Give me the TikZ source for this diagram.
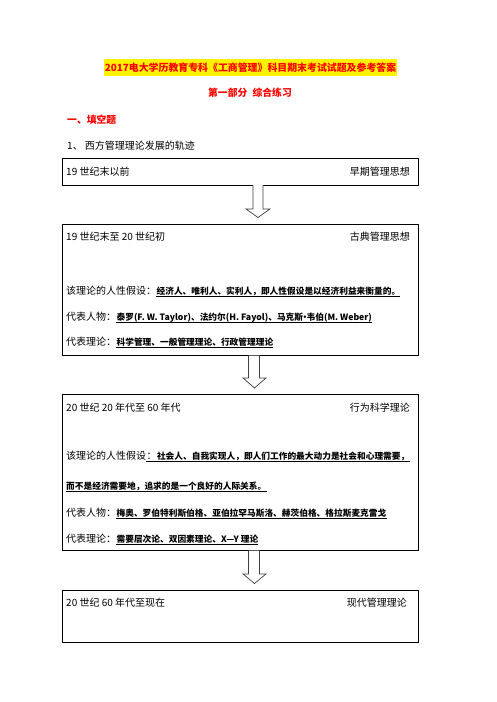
\documentclass[tikz,border=0pt]{standalone}
\usepackage{fontspec}
\setmainfont{Noto Sans CJK SC}
\begin{document}
\begin{tikzpicture}[x=1pt,y=-1pt,
  box/.style={draw=black,line width=0.9pt,minimum width=356pt,inner sep=0pt},
  lt/.style={anchor=base west,inner sep=0pt,font=\fontsize{10}{12}\selectfont},
  rt/.style={anchor=base east,inner sep=0pt,font=\fontsize{10}{12}\selectfont},
  ul/.style={anchor=base west,inner sep=0pt,font=\fontsize{8.7}{10}\selectfont\bfseries},
  uline/.style={line width=0.7pt},
  blockarrow/.style={draw=black!75,line width=0.7pt,fill=white},
  redh/.style={inner sep=0pt,text=red,font=\fontsize{9.8}{12}\selectfont\bfseries}
]
\useasboundingbox (0,0) rectangle (496,702);

% headings
\node[redh,fill=yellow,inner xsep=1pt,minimum height=17pt,font=\fontsize{9.9}{12}\selectfont\bfseries] (title) at (250.5,67.5) {2017电大学历教育专科《工商管理》科目期末考试试题及参考答案};
\node[redh] (sub) at (250,93) {第一部分\hspace{3pt} 综合练习};
\node[redh,anchor=west] (sec) at (67,120) {一、填空题};
\node[anchor=west,inner sep=0pt,font=\fontsize{10}{12}\selectfont] (q1) at (67,146) {1、 西方管理理论发展的轨迹};

% boxes
\node[box,minimum height=27pt] (b1) at (240,171.5) {};
\node[box,minimum height=131pt] (b2) at (240,289.5) {};
\node[box,minimum height=156pt] (b3) at (240,472) {};
\node[box,minimum height=52pt] (b4) at (240,616) {};

% arrows
\draw[blockarrow] (253,185) -- (253,209) -- (246,209) -- (258,217.5) -- (270,209) -- (263,209) -- (263,185);
\draw[blockarrow] (248.5,355.5) -- (248.5,378) -- (243,378) -- (254.5,388) -- (266,378) -- (259.5,378) -- (259.5,355.5);
\draw[blockarrow] (248.5,550.5) -- (248.5,574) -- (243,574) -- (254.5,583.5) -- (266,574) -- (259.5,574) -- (259.5,550.5);

% box 1
\node[lt] (b1l) at (66,175.8) {19 世纪末以前};
\node[rt] (b1r) at (410,175.8) {早期管理思想};

% box 2
\node[lt] (b2l) at (66,240.8) {19 世纪末至 20 世纪初};
\node[rt] (b2r) at (410,240.8) {古典管理思想};
\node[lt] (b2a) at (66,294.2) {该理论的人性假设：};
\node[ul] (b2au) at (b2a.base east) {经济人、唯利人、实利人，即人性假设是以经济利益来衡量的。};
\draw[uline] ([yshift=-2pt]b2au.base west) -- ([yshift=-2pt]b2au.base east);
\node[lt] (b2b) at (66,320.8) {代表人物：};
\node[ul] (b2bu) at (b2b.base east) {泰罗(F. W. Taylor)、法约尔(H. Fayol)、马克斯\makebox[3.5pt]{•}韦伯(M. Weber)};
\draw[uline] ([yshift=-2pt]b2bu.base west) -- ([yshift=-2pt]b2bu.base east);
\node[lt] (b2c) at (66,345.2) {代表理论：};
\node[ul] (b2cu) at (b2c.base east) {科学管理、一般管理理论、行政管理理论};
\draw[uline] ([yshift=-2pt]b2cu.base west) -- ([yshift=-2pt]b2cu.base east);

% box 3
\node[lt] (b3l) at (66,411.2) {20 世纪 20 年代至 60 年代};
\node[rt] (b3r) at (410,411.2) {行为科学理论};
\node[lt] (b3a) at (66,459.5) {该理论的人性假设};
\node[ul,font=\fontsize{10}{12}\selectfont] (b3ac) at (b3a.base east) {：};
\node[ul] (b3au) at (b3ac.base east) {社会人、自我实现人，即人们工作的最大动力是社会和心理需要，};
\draw[uline] ([yshift=-2pt]b3ac.base west) -- ([yshift=-2pt]b3au.base east);
\node[ul] (b3b) at (66,489.5) {而不是经济需要地，追求的是一个良好的人际关系。};
\draw[uline] ([yshift=-2pt]b3b.base west) -- ([yshift=-2pt]b3b.base east);
\node[lt] (b3c) at (66,516.2) {代表人物：};
\node[ul] (b3cu) at (b3c.base east) {梅奥、罗伯特利斯伯格、亚伯拉罕马斯洛、赫茨伯格、格拉斯麦克雷戈};
\draw[uline] ([yshift=-2pt]b3cu.base west) -- ([yshift=-2pt]b3cu.base east);
\node[lt] (b3d) at (66,542.2) {代表理论：};
\node[ul] (b3du) at (b3d.base east) {需要层次论、双因素理论、X—Y 理论};
\draw[uline] ([yshift=-2pt]b3du.base west) -- ([yshift=-2pt]b3du.base east);

% box 4
\node[lt] (b4l) at (66,606.8) {20 世纪 60 年代至现在};
\node[rt] (b4r) at (407,606.8) {现代管理理论};
\end{tikzpicture}
\end{document}
